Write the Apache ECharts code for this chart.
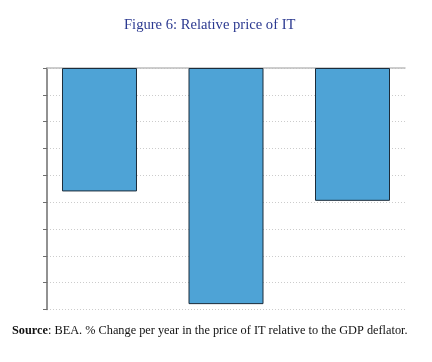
<!DOCTYPE html>
<html><head><meta charset="utf-8">
<script src="https://cdn.jsdelivr.net/npm/echarts@6/dist/echarts.min.js"></script>
<style>html,body{margin:0;padding:0;background:#fff}#c{width:432px;height:362px}</style>
</head><body><div id="c"></div>
<script>
const categories = ['Period 1', 'Period 2', 'Period 3'];
const values = [-4.6, -8.8, -4.95];
const yTicks = [-9, -8, -7, -6, -5, -4, -3, -2, -1, 0];

const chart = echarts.init(document.getElementById('c'), null, {renderer: 'canvas'});
chart.setOption({
  animation: false,
  backgroundColor: '#fff',
  title: [{
    text: 'Figure 6: Relative price of IT',
    left: 119, top: 13,
    textStyle: {fontFamily: 'Liberation Serif', fontSize: 14.6, fontWeight: 'normal', color: '#2b3990'}
  }, {
    text: '{b|Source}: BEA. % Change per year in the price of IT relative to the GDP deflator.',
    left: 7, top: 320,
    textStyle: {fontFamily: 'Liberation Serif', fontSize: 12.3, fontWeight: 'normal', color: '#111',
      rich: {b: {fontFamily: 'Liberation Serif', fontSize: 12.3, fontWeight: 'bold', color: '#111'}}}
  }],
  grid: {left: 47, right: 27, top: 68, bottom: 52.5},
  xAxis: {
    type: 'value', min: 0.585, max: 3.415,
    axisLine: {show: true, onZero: true, lineStyle: {color: '#bdbdbd', width: 1.5}},
    axisTick: {show: false}, axisLabel: {show: false}, splitLine: {show: false}
  },
  yAxis: {
    type: 'value', min: yTicks[0], max: yTicks[yTicks.length - 1], interval: 1,
    axisLine: {show: true, lineStyle: {color: '#6e6e6e', width: 1.5}},
    axisTick: {show: true, length: 4, lineStyle: {color: '#6e6e6e', width: 1}},
    axisLabel: {show: false},
    splitLine: {show: true, lineStyle: {color: '#cccccc', type: [1, 2], width: 1}}
  },
  series: [{
    type: 'bar',
    barWidth: 75,
    data: categories.map((c, i) => ({name: c, value: [i + 1, values[i]]})),
    itemStyle: {color: '#4ea3d6', borderColor: '#1c2c3a', borderWidth: 1}
  }]
});
</script></body></html>
